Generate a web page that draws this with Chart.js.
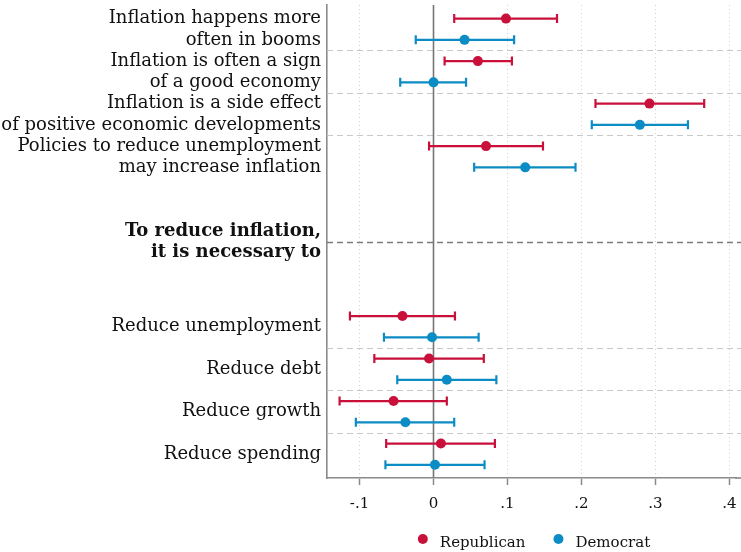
<!DOCTYPE html>
<html>
<head>
<meta charset="utf-8">
<script src="https://cdn.jsdelivr.net/npm/chart.js@4/dist/chart.umd.min.js"></script>
<style>
  html, body { margin: 0; padding: 0; background: #fff; }
  #wrap { width: 741px; height: 552px; }
</style>
</head>
<body>
<div id="wrap"><canvas id="chart"></canvas></div>
<script>
// statements, top group then "To reduce inflation" group
const rowLabels = [
  ['Inflation happens more', 'often in booms'],
  ['Inflation is often a sign', 'of a good economy'],
  ['Inflation is a side effect', 'of positive economic developments'],
  ['Policies to reduce unemployment', 'may increase inflation'],
  'Reduce unemployment',
  'Reduce debt',
  'Reduce growth',
  'Reduce spending'
];
const headerLabel = ['To reduce inflation,', 'it is necessary to'];

const repEst = [0.098, 0.060, 0.292, 0.071, -0.042, -0.006, -0.054, 0.010];
const repLo  = [0.028, 0.015, 0.219, -0.006, -0.113, -0.080, -0.127, -0.064];
const repHi  = [0.167, 0.106, 0.366, 0.148, 0.029, 0.068, 0.018, 0.083];

const demEst = [0.042, 0.000, 0.279, 0.124, -0.002, 0.018, -0.038, 0.002];
const demLo  = [-0.024, -0.045, 0.214, 0.055, -0.067, -0.049, -0.105, -0.065];
const demHi  = [0.109, 0.044, 0.344, 0.192, 0.061, 0.085, 0.028, 0.069];

const xTicks = [-0.1, 0, 0.1, 0.2, 0.3, 0.4];

// layout on the y scale (one unit per marker row)
const rowSlots = [1.5, 3.5, 5.5, 7.5, 15.5, 17.5, 19.5, 21.5];
const headerSlot = 11.5;
const separators = [2.5, 4.5, 6.5, 16.5, 18.5, 20.5];

const RED = 'rgb(200, 16, 58)';
const BLUE = 'rgb(12, 140, 196)';
const SERIF = "'DejaVu Serif', 'Liberation Serif', serif";

function fmtTick(v) {
  if (Math.abs(v) < 1e-9) return '0';
  return v.toFixed(1).replace('0.', '.');
}

// dashed separators, zero line, header line and CI whiskers
const decorPlugin = {
  id: 'decor',
  beforeDatasetsDraw(chart) {
    const { ctx, chartArea, scales: { x, y } } = chart;
    const right = chart.width; // the plot region runs off the right edge
    ctx.save();
    ctx.lineWidth = 1;
    ctx.strokeStyle = '#c8c8c8';
    ctx.setLineDash([6, 4]);
    separators.forEach(s => {
      const py = Math.round(y.getPixelForValue(s)) + 0.5;
      ctx.beginPath();
      ctx.moveTo(chartArea.left, py);
      ctx.lineTo(right, py);
      ctx.stroke();
    });
    ctx.strokeStyle = '#7c7c7c';
    ctx.lineWidth = 1.3;
    const hy = Math.round(y.getPixelForValue(headerSlot)) + 0.5;
    ctx.beginPath();
    ctx.moveTo(chartArea.left, hy);
    ctx.lineTo(right, hy);
    ctx.stroke();
    ctx.setLineDash([]);

    // axis line continues to the edge
    ctx.strokeStyle = '#8a8a8a';
    ctx.lineWidth = 1.6;
    ctx.beginPath();
    ctx.moveTo(chartArea.right - 1, chartArea.bottom);
    ctx.lineTo(right, chartArea.bottom);
    ctx.stroke();

    ctx.strokeStyle = '#767676';
    ctx.lineWidth = 1.6;
    const zx = x.getPixelForValue(0);
    ctx.beginPath();
    ctx.moveTo(zx, chartArea.top);
    ctx.lineTo(zx, chartArea.bottom);
    ctx.stroke();

    const bars = [
      { lo: repLo, hi: repHi, off: -0.5, color: RED },
      { lo: demLo, hi: demHi, off: 0.5, color: BLUE }
    ];
    ctx.lineWidth = 2.2;
    bars.forEach(b => {
      ctx.strokeStyle = b.color;
      b.lo.forEach((lo, i) => {
        const py = y.getPixelForValue(rowSlots[i] + b.off);
        const x1 = x.getPixelForValue(lo);
        const x2 = x.getPixelForValue(b.hi[i]);
        ctx.beginPath();
        ctx.moveTo(x1, py); ctx.lineTo(x2, py);
        ctx.moveTo(x1, py - 4.5); ctx.lineTo(x1, py + 4.5);
        ctx.moveTo(x2, py - 4.5); ctx.lineTo(x2, py + 4.5);
        ctx.stroke();
      });
    });
    ctx.restore();
  },
  // legend centred under the plot region
  afterDraw(chart) {
    const { ctx, chartArea } = chart;
    ctx.save();
    ctx.font = '15px ' + SERIF;
    ctx.textBaseline = 'middle';
    const items = chart.data.datasets.map(d => ({ label: d.label, color: d.backgroundColor, w: ctx.measureText(d.label).width }));
    const total = items.reduce((s, it) => s + 22 + it.w, 0) + 28 * (items.length - 1);
    let cx = (chartArea.left + chart.width) / 2 - total / 2;
    items.forEach(it => {
      ctx.fillStyle = it.color;
      ctx.beginPath();
      ctx.arc(cx + 5, 539, 5, 0, Math.PI * 2);
      ctx.fill();
      ctx.fillStyle = '#111';
      ctx.fillText(it.label, cx + 22, 543);
      cx += 22 + it.w + 28;
    });
    ctx.restore();
  }
};

const ySlots = rowSlots.slice(0, 4).concat([headerSlot], rowSlots.slice(4));

new Chart(document.getElementById('chart'), {
  type: 'scatter',
  data: {
    datasets: [
      {
        label: 'Republican',
        data: repEst.map((v, i) => ({ x: v, y: rowSlots[i] - 0.5 })),
        backgroundColor: RED,
        borderColor: RED,
        pointRadius: 5,
        borderWidth: 0
      },
      {
        label: 'Democrat',
        data: demEst.map((v, i) => ({ x: v, y: rowSlots[i] + 0.5 })),
        backgroundColor: BLUE,
        borderColor: BLUE,
        pointRadius: 5,
        borderWidth: 0
      }
    ]
  },
  options: {
    responsive: true,
    maintainAspectRatio: false,
    animation: false,
    layout: { padding: { top: 5, right: 0, left: 0, bottom: 0 } },
    scales: {
      x: {
        type: 'linear',
        min: -0.144,
        max: 0.409,
        afterBuildTicks: scale => { scale.ticks = xTicks.map(v => ({ value: v })); },
        afterFit: scale => {
          scale.height = 74;
          scale.paddingLeft = 0;
          scale.paddingRight = 0;
        },
        grid: {
          color: '#d2d2d2',
          lineWidth: 1,
          drawTicks: true,
          tickLength: 7,
          tickColor: '#8a8a8a',
          tickWidth: 1.5,
          tickBorderDash: []
        },
        border: { display: true, color: '#8a8a8a', width: 1.6, dash: [1, 3] },
        ticks: {
          color: '#111',
          padding: 10,
          font: { family: SERIF, size: 15 },
          callback: v => fmtTick(v),
          maxRotation: 0
        }
      },
      y: {
        type: 'linear',
        reverse: true,
        min: 0.36,
        max: 22.62,
        afterBuildTicks: scale => { scale.ticks = ySlots.map(v => ({ value: v })); },
        afterFit: scale => {
          scale.width = 327;
          scale.paddingTop = 0;
          scale.paddingBottom = 0;
        },
        grid: { display: false, drawTicks: false },
        border: { display: true, color: '#8a8a8a', width: 1.6 },
        ticks: {
          color: '#111',
          padding: 6,
          autoSkip: false,
          font: ctx => ({
            family: SERIF,
            size: 18,
            weight: ctx.tick && ctx.tick.value === headerSlot ? 'bold' : 'normal',
            lineHeight: '21.3px'
          }),
          callback: v => {
            if (v === headerSlot) return headerLabel;
            const i = rowSlots.indexOf(v);
            return i >= 0 ? rowLabels[i] : '';
          }
        }
      }
    },
    plugins: {
      legend: { display: false },
      tooltip: { enabled: false }
    }
  },
  plugins: [decorPlugin]
});
</script>
</body>
</html>
